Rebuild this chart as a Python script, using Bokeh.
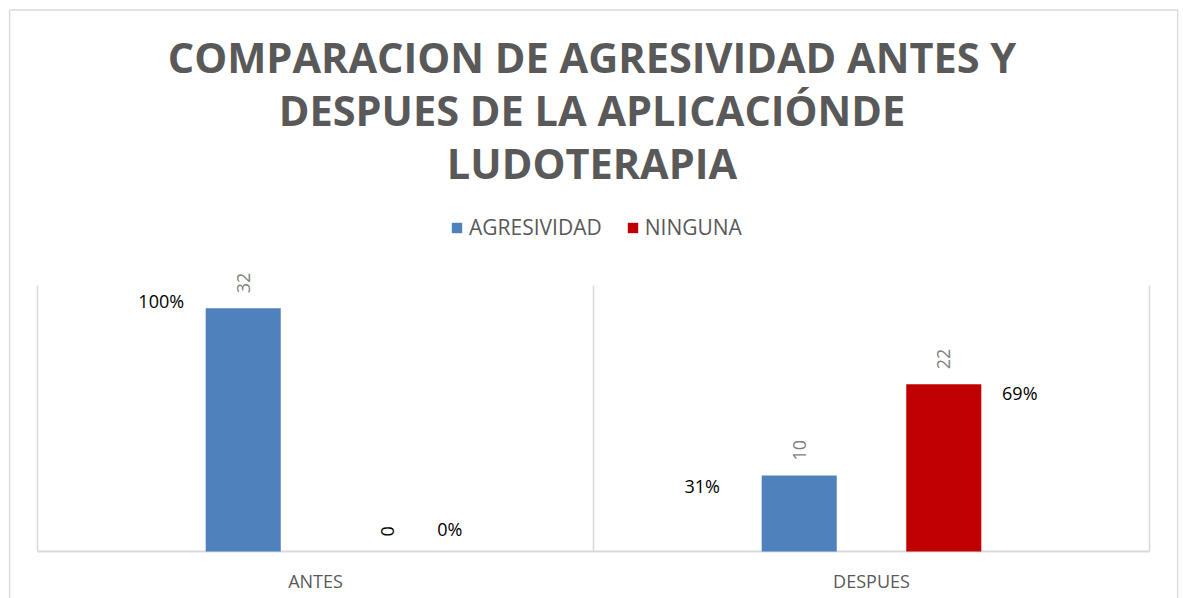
from bokeh.plotting import figure
from bokeh.models import ColumnDataSource, FactorRange, Range1d, Legend, LegendItem
from bokeh.transform import dodge
from bokeh.core.properties import value
from bokeh.embed import file_html
from bokeh.resources import INLINE
import math

# ---- data ----
categories = ["ANTES", "DESPUES"]
series = ["AGRESIVIDAD", "NINGUNA"]
agresividad = [32, 10]
ninguna = [0, 22]
totals = [a + n for a, n in zip(agresividad, ninguna)]
title_lines = ["COMPARACION DE AGRESIVIDAD ANTES Y",
               "DESPUES DE LA APLICACIÓNDE",
               "LUDOTERAPIA"]

# ---- layout constants (page pixels) ----
W, H = 1183, 598
FRAME_LEFT, FRAME_RIGHT = 8, 1178
CAT_SPAN = 1112
PAD = (FRAME_RIGHT - FRAME_LEFT - CAT_SPAN) / 2
PLOT_LEFT = FRAME_LEFT + PAD
PLOT_TOP, ZERO_Y = 285, 551
Y_MAX = 35
PX_PER_UNIT = (ZERO_Y - PLOT_TOP) / Y_MAX
CAT_PX = CAT_SPAN / len(categories)


def py(page_y):
    return (ZERO_Y - page_y) / PX_PER_UNIT


def px(page_x):
    return (page_x - PLOT_LEFT) / CAT_PX


BLUE = "#4f81bd"
RED = "#c00000"
GRAY_TXT = "#595959"
LINE = "#d9d9d9"
FONT = value("Open Sans")

xr = FactorRange(*categories, range_padding=2 * PAD / CAT_SPAN)
p = figure(width=W, height=H, x_range=xr, y_range=Range1d(py(H), py(0)),
           output_backend="svg", toolbar_location=None,
           min_border=0, min_border_left=FRAME_LEFT, min_border_right=W - FRAME_RIGHT,
           min_border_top=0, min_border_bottom=0)
p.axis.visible = False
p.grid.visible = False
p.outline_line_color = None
p.background_fill_color = "white"
p.border_fill_color = "white"

# chart-area border (left, top, right; bottom is outside the window)
bx0, bx1, by0, by1 = px(9), px(1177.3), py(9.5), py(H + 5)
p.segment(x0=[bx0, bx0, bx1], y0=[by1, by0, by0], x1=[bx0, bx1, bx1], y1=[by0, by0, by1],
          line_color=LINE, line_width=1.5)

# separators and baseline
p.segment(x0=[0, 1, 2], y0=[0, 0, 0], x1=[0, 1, 2], y1=[Y_MAX] * 3,
          line_color=LINE, line_width=1.5)
p.segment(x0=[0], y0=[0], x1=[2], y1=[0], line_color=LINE, line_width=2)

OFF = 0.13
BW = 0.135
src_a = ColumnDataSource(dict(cat=categories, v=agresividad,
                              lbl=[str(v) for v in agresividad],
                              pct=["%d%%" % round(100 * v / t) for v, t in zip(agresividad, totals)],
                              xo=[-82, -97], yo=[-7, 10],
                              vc=["#7f7f7f", "#7f7f7f"]))
src_n = ColumnDataSource(dict(cat=categories, v=ninguna,
                              lbl=[str(v) for v in ninguna],
                              pct=["%d%%" % round(100 * v / t) for v, t in zip(ninguna, totals)],
                              xo=[62, 76], yo=[-23, 9],
                              vc=["#000000", "#7f7f7f"]))

ra = p.vbar(x=dodge("cat", -OFF, range=xr), top="v", width=BW, bottom=0,
            source=src_a, fill_color=BLUE, line_color=None)
rn = p.vbar(x=dodge("cat", OFF, range=xr), top="v", width=BW, bottom=0,
            source=src_n, fill_color=RED, line_color=None)

for src, off in ((src_a, -OFF), (src_n, OFF)):
    p.text(x=dodge("cat", off, range=xr), y="v", text="lbl", source=src,
           angle=math.pi / 2, text_align="left", text_baseline="middle",
           y_offset=-15, text_font=FONT, text_font_size="18px",
           text_color="vc")
    p.text(x=dodge("cat", off, range=xr), y="v", text="pct", source=src,
           x_offset="xo", y_offset="yo", text_align="center",
           text_baseline="middle", text_font=FONT, text_font_size="18px",
           text_color="#000000")

# category labels
p.text(x=categories, y=[py(580)] * 2, text=categories, text_align="center",
       text_baseline="middle", text_font=FONT, text_font_size="18px",
       text_color=GRAY_TXT)

# title
p.text(x=[px(591.5)] * 3, y=[py(56.5), py(109.5), py(162.5)], text=title_lines,
       text_align="center", text_baseline="middle", text_font=FONT,
       text_font_size="41.5px", text_font_style="bold", text_color=GRAY_TXT)

legend = Legend(items=[LegendItem(label=series[0], renderers=[ra]),
                       LegendItem(label=series[1], renderers=[rn])],
                orientation="horizontal",
                margin=0, padding=0, spacing=24,
                glyph_width=13, glyph_height=13, label_standoff=6,
                label_text_font="Open Sans", label_text_font_size="21px",
                label_text_color=GRAY_TXT, border_line_color=None,
                background_fill_alpha=0)
p.add_layout(legend)
legend.location = (450 - FRAME_LEFT, H - 241)

open("out.html", "w").write(file_html(p, INLINE))
